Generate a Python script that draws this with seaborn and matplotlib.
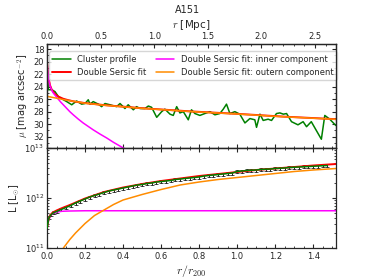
import numpy as np
import pandas as pd
import matplotlib
matplotlib.use('Agg')
import matplotlib.pyplot as plt
from matplotlib.ticker import MultipleLocator, LogLocator, NullFormatter
import seaborn as sns

# ---- data ----
r200 = 1.774  # Mpc, scale between r/r200 and r [Mpc]

# surface brightness profile (top panel)
prof_x = [0.002, 0.007, 0.025, 0.042, 0.060, 0.086, 0.104, 0.130, 0.156, 0.182, 0.200,
          0.217, 0.226, 0.243, 0.270, 0.287, 0.305, 0.331, 0.366, 0.384, 0.410, 0.427,
          0.454, 0.471, 0.489, 0.515, 0.533, 0.550, 0.577, 0.603, 0.620, 0.647, 0.664,
          0.682, 0.699, 0.717, 0.743, 0.760, 0.778, 0.804, 0.830, 0.857, 0.883, 0.909,
          0.927, 0.944, 0.962, 0.988, 1.014, 1.041, 1.067, 1.093, 1.102, 1.120, 1.137,
          1.163, 1.181, 1.207, 1.225, 1.243, 1.260, 1.286, 1.320, 1.347, 1.365, 1.390,
          1.443, 1.461, 1.487, 1.519]
prof_mu = [21.9, 24.5, 24.5, 24.8, 25.6, 26.1, 26.4, 26.9, 26.3, 26.8, 26.7,
           26.1, 26.8, 26.4, 26.8, 27.2, 26.7, 26.9, 27.2, 26.7, 27.5, 26.9,
           27.7, 27.2, 27.5, 27.5, 27.1, 27.3, 28.9, 28.0, 27.6, 28.4, 28.6,
           27.2, 28.2, 28.0, 29.3, 27.7, 28.3, 28.6, 28.3, 28.0, 28.5, 28.3,
           27.6, 26.8, 28.3, 28.0, 28.4, 29.8, 29.1, 29.3, 30.5, 28.4, 29.4,
           29.2, 29.4, 28.3, 28.2, 28.4, 28.3, 29.6, 30.1, 29.6, 30.4, 29.6,
           32.4, 28.6, 29.2, 30.2]

fit_x = [0.0, 0.004, 0.01, 0.016, 0.025, 0.042, 0.06, 0.086, 0.11, 0.138, 0.17, 0.2,
         0.3, 0.4, 0.5, 0.75, 1.0, 1.25, 1.52]
fit_mu = [20.0, 21.5, 22.9, 23.8, 24.5, 25.2, 25.6, 25.95, 26.15, 26.35, 26.5, 26.63,
          26.95, 27.2, 27.45, 27.95, 28.35, 28.8, 29.2]

inner_x = [0.0, 0.004, 0.01, 0.016, 0.03, 0.051, 0.07, 0.095, 0.12, 0.138, 0.165, 0.19,
           0.243, 0.28, 0.314, 0.35, 0.39, 0.42]
inner_mu = [20.0, 21.6, 23.0, 23.9, 24.9, 25.7, 26.4, 27.2, 28.0, 28.5, 29.2, 29.8,
            30.9, 31.6, 32.2, 32.9, 33.6, 34.1]

outer_x = [0.0, 0.05, 0.1, 0.15, 0.2, 0.3, 0.4, 0.5, 0.75, 1.0, 1.25, 1.52]
outer_mu = [25.55, 25.85, 26.15, 26.4, 26.65, 26.97, 27.22, 27.47, 27.97, 28.37, 28.82, 29.22]

# cumulative luminosity (bottom panel), log10(L / Lsun)
cum_x = [0.0, 0.01, 0.02, 0.035, 0.05, 0.075, 0.10, 0.125, 0.15, 0.175, 0.20, 0.225,
         0.25, 0.275, 0.30, 0.325, 0.35, 0.375, 0.40, 0.425, 0.45, 0.475, 0.50, 0.525,
         0.55, 0.575, 0.60, 0.625, 0.65, 0.675, 0.70, 0.725, 0.75, 0.775, 0.80, 0.825,
         0.85, 0.875, 0.90, 0.925, 0.95, 0.975, 1.00, 1.025, 1.05, 1.075, 1.10, 1.125,
         1.15, 1.175, 1.20, 1.225, 1.25, 1.275, 1.30, 1.325, 1.35, 1.375, 1.40, 1.425,
         1.45, 1.475]
cum_logL = [11.40, 11.60, 11.66, 11.71, 11.73, 11.77, 11.81, 11.85, 11.90, 11.94, 11.98, 12.02,
            12.05, 12.08, 12.11, 12.14, 12.16, 12.18, 12.20, 12.22, 12.24, 12.26, 12.27, 12.29,
            12.30, 12.32, 12.33, 12.34, 12.35, 12.37, 12.38, 12.39, 12.40, 12.41, 12.42, 12.44,
            12.45, 12.46, 12.47, 12.48, 12.49, 12.50, 12.53, 12.54, 12.55, 12.555, 12.56, 12.57,
            12.575, 12.58, 12.59, 12.595, 12.60, 12.61, 12.615, 12.62, 12.625, 12.63, 12.635, 12.64,
            12.645, 12.65]
cum_err_dex = 0.03

cfit_x = [0.0, 0.005, 0.01, 0.02, 0.03, 0.05, 0.08, 0.12, 0.2, 0.3, 0.4, 0.5, 0.6, 0.7,
          0.8, 0.9, 1.0, 1.1, 1.2, 1.3, 1.4, 1.52]
cfit_logL = [11.40, 11.52, 11.60, 11.67, 11.71, 11.75, 11.80, 11.86, 11.99, 12.12, 12.21,
             12.28, 12.34, 12.39, 12.44, 12.48, 12.52, 12.56, 12.59, 12.62, 12.65, 12.68]

cinner_x = [0.0, 0.005, 0.01, 0.02, 0.03, 0.05, 0.08, 0.12, 0.2, 1.52]
cinner_logL = [11.40, 11.50, 11.57, 11.65, 11.69, 11.72, 11.735, 11.74, 11.745, 11.745]

couter_x = [0.086, 0.1, 0.12, 0.15, 0.2, 0.25, 0.3, 0.35, 0.4, 0.5, 0.6, 0.7, 0.8, 0.9,
            1.0, 1.1, 1.2, 1.3, 1.4, 1.52]
couter_logL = [11.0, 11.07, 11.17, 11.30, 11.49, 11.65, 11.76, 11.87, 11.96, 12.07, 12.17,
               12.26, 12.32, 12.37, 12.41, 12.45, 12.49, 12.53, 12.56, 12.59]

labels = ['Cluster profile', 'Double Sersic fit',
          'Double Sersic fit: inner component', 'Double Sersic fit: outern component']

# ---- style ----
sns.set_style('ticks', {'xtick.direction': 'in', 'ytick.direction': 'in'})
plt.rcParams['font.family'] = ['DejaVu Sans']
plt.rcParams['mathtext.fontset'] = 'cm'
plt.rcParams['xtick.top'] = True
plt.rcParams['ytick.right'] = True
plt.rcParams['xtick.labelsize'] = 6
plt.rcParams['ytick.labelsize'] = 6
plt.rcParams['xtick.major.size'] = 3
plt.rcParams['ytick.major.size'] = 3
plt.rcParams['xtick.minor.size'] = 1.5
plt.rcParams['ytick.minor.size'] = 1.5
plt.rcParams['xtick.major.pad'] = 3
plt.rcParams['ytick.major.pad'] = 2

fig = plt.figure(figsize=(3.74, 2.8), dpi=100)
ax1 = fig.add_axes([0.1257, 0.4714, 0.7727, 0.3715])
ax2 = fig.add_axes([0.1257, 0.1143, 0.7727, 0.3571], sharex=ax1)

# top panel
sns.lineplot(x=prof_x, y=prof_mu, ax=ax1, color='green', lw=1.1, sort=False,
             estimator=None, label=labels[0])
sns.lineplot(x=fit_x, y=fit_mu, ax=ax1, color='red', lw=1.4, sort=False,
             estimator=None, label=labels[1])
sns.lineplot(x=inner_x, y=inner_mu, ax=ax1, color='magenta', lw=1.1, sort=False,
             estimator=None, label=labels[2])
sns.lineplot(x=outer_x, y=outer_mu, ax=ax1, color='darkorange', lw=1.1, sort=False,
             estimator=None, label=labels[3])
ax1.set_xlim(0, 1.52)
ax1.set_ylim(33.8, 17.2)
ax1.yaxis.set_major_locator(MultipleLocator(2))
ax1.yaxis.set_minor_locator(MultipleLocator(1))
ax1.tick_params(labelbottom=False, which='both', top=False)
ax1.set_ylabel(r'$\mu$ [mag arcsec$^{-2}$]', fontsize=7, labelpad=2)
ax1.legend(loc='upper left', bbox_to_anchor=(0.007, 0.93), borderaxespad=0, ncol=2,
           fontsize=6, handlelength=2.2, columnspacing=1.1, labelspacing=0.5,
           handletextpad=0.8, frameon=True, fancybox=True, edgecolor='#cccccc',
           borderpad=0.4)

# top axis in Mpc
axt = ax1.twiny()
axt.set_xlim(0, 1.52 * r200)
axt.xaxis.set_major_locator(MultipleLocator(0.5))
axt.xaxis.set_minor_locator(MultipleLocator(0.1))
axt.tick_params(which='both', direction='in', labelsize=6, pad=2)
axt.set_xlabel(r'$r$ [Mpc]', fontsize=7.5, labelpad=3)

# bottom panel
ax2.set_yscale('log')
L = 10 ** np.array(cum_logL)
yerr = [L * (1 - 10 ** -cum_err_dex), L * (10 ** cum_err_dex - 1)]
ax2.errorbar(cum_x, L, yerr=yerr, fmt='none', ecolor='black', elinewidth=0.6,
             capsize=1.2, capthick=0.5, zorder=2)
sns.lineplot(x=cum_x, y=L, ax=ax2, color='green', lw=1.1, sort=False,
             estimator=None, zorder=3)
sns.lineplot(x=cfit_x, y=10 ** np.array(cfit_logL), ax=ax2, color='red', lw=1.4,
             sort=False, estimator=None, zorder=2.5)
sns.lineplot(x=cinner_x, y=10 ** np.array(cinner_logL), ax=ax2, color='magenta',
             lw=1.1, sort=False, estimator=None)
sns.lineplot(x=couter_x, y=10 ** np.array(couter_logL), ax=ax2, color='darkorange',
             lw=1.1, sort=False, estimator=None)
ax2.set_xlim(0, 1.52)
ax2.set_ylim(1e11, 1e13)
ax2.xaxis.set_major_locator(MultipleLocator(0.2))
ax2.xaxis.set_minor_locator(MultipleLocator(0.05))
ax2.yaxis.set_major_locator(LogLocator(base=10))
ax2.yaxis.set_minor_locator(LogLocator(base=10, subs=np.arange(2, 10)))
ax2.yaxis.set_minor_formatter(NullFormatter())
ax2.tick_params(which='both', top=True, right=True)
ax2.set_xlabel(r'$r/r_{200}$', fontsize=8.5, labelpad=1)
ax2.set_ylabel(r'L [L$_{\odot}$]', fontsize=7, labelpad=2)
if ax2.get_legend() is not None:
    ax2.get_legend().remove()

for ax in (ax1, ax2, axt):
    for s in ax.spines.values():
        s.set_linewidth(0.9)

fig.text(0.5, 1 - 10 / 280, 'A151', ha='center', va='center', fontsize=7)

fig.savefig('out.png', dpi=100)
